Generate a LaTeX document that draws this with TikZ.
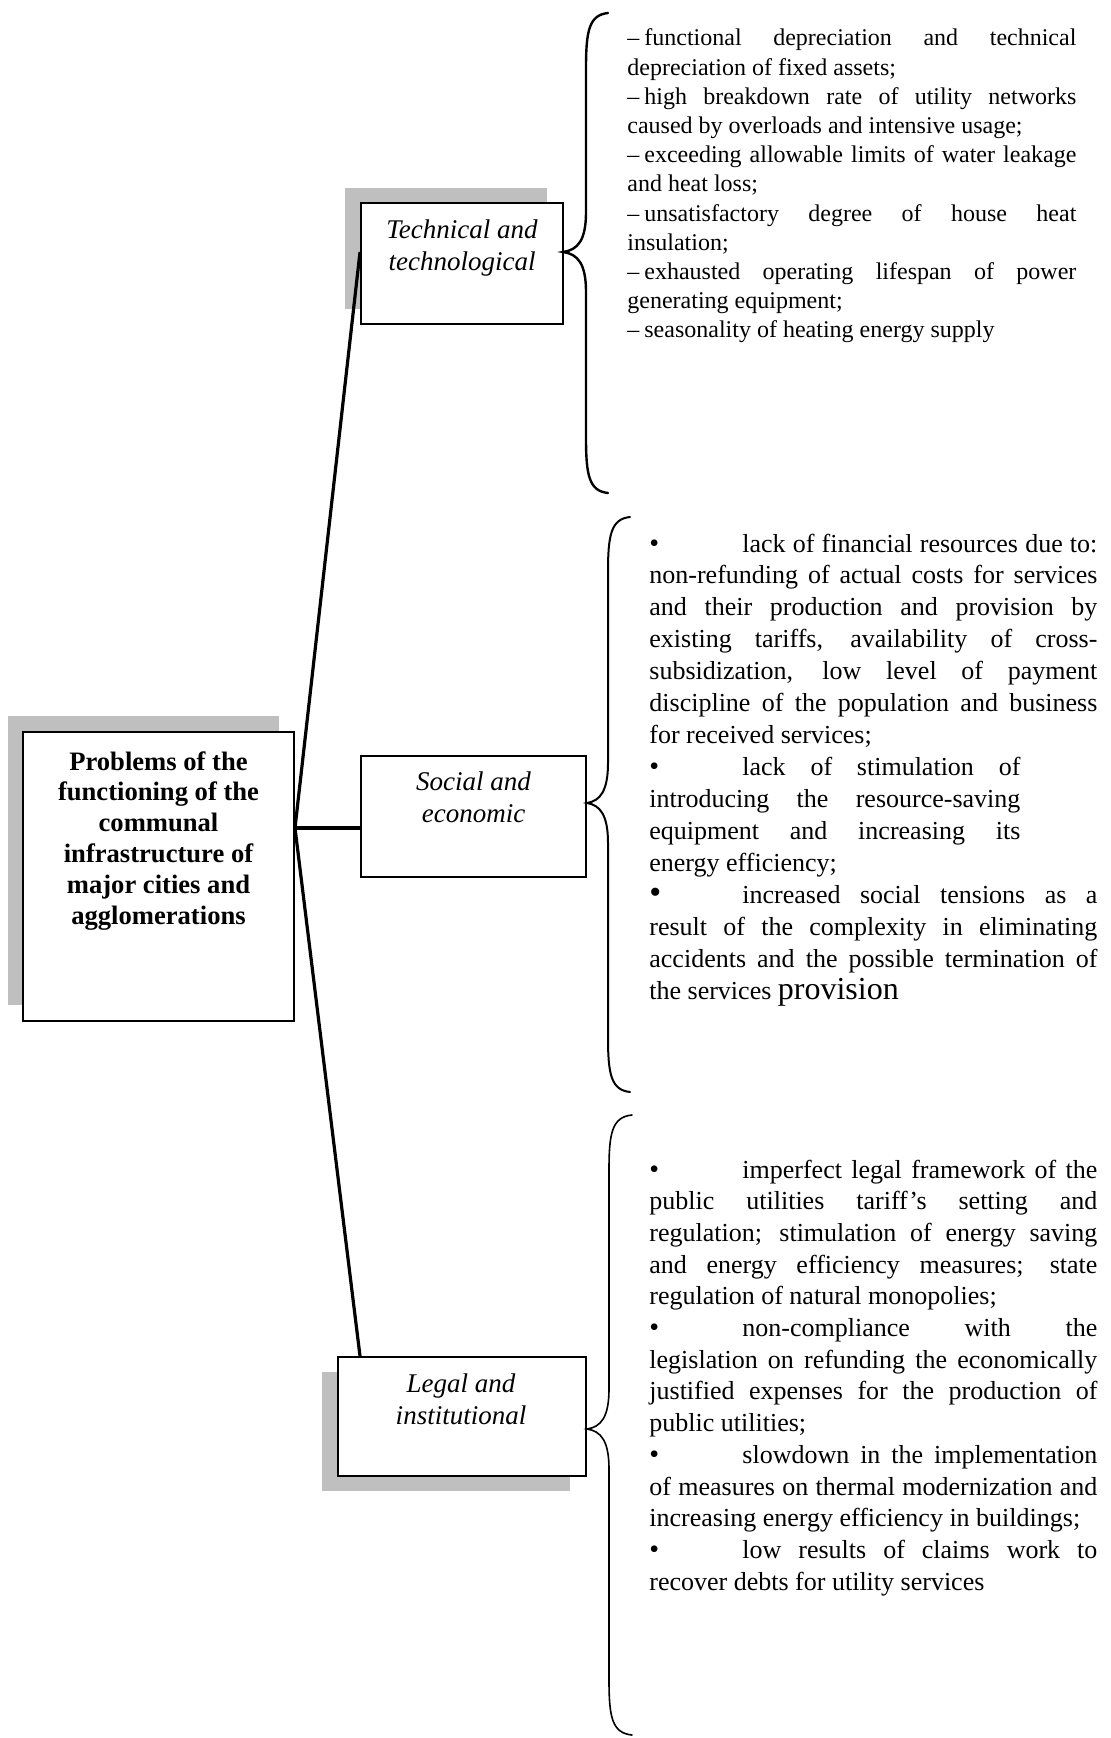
\documentclass[tikz,border=0pt]{standalone}
\usepackage{fontspec}
\setmainfont{Liberation Serif}
\usetikzlibrary{positioning,shadows}

\newcommand{\bul}{\makebox[46.5pt][l]{\fontsize{14}{14}\selectfont\textbullet}}
\newcommand{\bigbul}{\makebox[46.5pt][l]{\fontsize{17}{16}\selectfont\textbullet}}
\newcommand{\dsh}{–\hspace{2.5pt}}

\begin{document}
\begin{tikzpicture}[x=0.5pt, y=-0.5pt,
    box/.style={draw, line width=1pt, fill=white, inner sep=0pt},
    gshadow/.style 2 args={drop shadow={shadow xshift=#1, shadow yshift=#2, fill=black!25, opacity=1}},
    probtxt/.style={font=\fontsize{13.3}{15.4}\selectfont\bfseries, align=center, inner sep=0pt},
    cattxt/.style={font=\fontsize{13.5}{16}\selectfont\itshape, align=center, inner sep=0pt},
    techlist/.style={font=\fontsize{12}{14.6}\selectfont, text width=224.5pt, align=justify, inner sep=0pt},
    itemlist/.style={font=\fontsize{13}{#1}\selectfont, text width=224pt, align=justify, inner sep=0pt},
    link/.style={line width=1.6pt},
    brc/.style={line cap=round}
  ]
  \useasboundingbox (0,0) rectangle (1111,1738);

  % --- boxes ---
  \node[box, gshadow={-7.5pt}{8pt}, minimum width=135.5pt, minimum height=144.5pt] (prob) at (158.5,876.5) {};
  \node[box, gshadow={-8pt}{7.5pt}, minimum width=101pt, minimum height=60.5pt] (tech) at (462,263.5) {};
  \node[box, minimum width=112.5pt, minimum height=60.5pt] (soc) at (473.5,816.5) {};
  \node[box, gshadow={-8pt}{-7.5pt}, minimum width=124pt, minimum height=59.5pt] (legal) at (462,1416.5) {};

  \node[probtxt, below=10pt of prob.north] (prob-t)
    {Problems of the\\functioning of the\\communal\\infrastructure of\\major cities and\\agglomerations};
  \node[cattxt, below=8.6pt of tech.north] (tech-t) {Technical and\\technological};
  \node[cattxt, below=8.3pt of soc.north] (soc-t) {Social and\\economic};
  \node[cattxt, below=8.8pt of legal.north, xshift=-0.5pt] (legal-t) {Legal and\\institutional};

  % --- connectors ---
  \coordinate (hub) at ([yshift=24.25pt]prob.east);
  \draw[link] (hub) -- ([yshift=5.75pt]tech.west);
  \draw[link] (hub) -- ([yshift=-5.75pt]soc.west);
  \draw[link] (hub) -- ([xshift=11.5pt]legal.north west);

  % --- braces ---
  \foreach \xe/\xv/\xt/\yt/\ym/\yb/\lw in {608/586/563/13/252/493/1.2,
                                          630/608/587/517/803/1092/1.0,
                                          632/609/587/1115/1429/1735/0.8}
    \draw[brc, line width=\lw pt] (\xe,\yt) .. controls (\xv+3,\yt+2) and (\xv,\yt+18) .. (\xv,\yt+55)
      -- (\xv,\ym-40) .. controls (\xv,\ym-12) and (\xv-8,\ym-2) .. (\xt,\ym)
      .. controls (\xv-8,\ym+2) and (\xv,\ym+12) .. (\xv,\ym+40)
      -- (\xv,\yb-55) .. controls (\xv,\yb-18) and (\xv+3,\yb-2) .. (\xe,\yb);

  % --- lists ---
  \node[techlist, anchor=base west] (tech-list) at (627,46) {%
    \dsh functional depreciation and technical\linebreak depreciation of fixed assets;\par
    \dsh high breakdown rate of utility networks\linebreak caused by overloads and intensive usage;\par
    \dsh exceeding allowable limits of water leakage\linebreak and heat loss;\par
    \dsh unsatisfactory degree of house heat\linebreak insulation;\par
    \dsh exhausted operating lifespan of power\linebreak generating equipment;\par
    \dsh seasonality of heating energy supply};

  \node[itemlist=15.97, anchor=base west] (soc-list) at (649,552) {%
    \bul lack of financial resources due to:\linebreak non-refunding of actual costs for services\linebreak
    and their production and provision by\linebreak existing tariffs, availability of cross-\linebreak
    subsidization, low level of payment\linebreak discipline of the population and business\linebreak
    for received services;\par
    {\rightskip=38.5pt \bul lack of stimulation of\linebreak introducing the resource-saving\linebreak
    equipment and increasing its\linebreak energy efficiency;\par}
    \bigbul increased social tensions as a\linebreak result of the complexity in eliminating\linebreak
    accidents and the possible termination of\linebreak the services {\fontsize{16}{15.97}\selectfont provision}};

  \node[itemlist=15.85, anchor=base west] (legal-list) at (649,1178) {%
    \bul imperfect legal framework of the\linebreak public utilities tariff’s setting and\linebreak
    regulation; stimulation of energy saving\linebreak and energy efficiency measures; state\linebreak
    regulation of natural monopolies;\par
    \bul non-compliance with the\linebreak legislation on refunding the economically\linebreak
    justified expenses for the production of\linebreak public utilities;\par
    \bul slowdown in the implementation\linebreak of measures on thermal modernization and\linebreak
    increasing energy efficiency in buildings;\par
    \bul low results of claims work to\linebreak recover debts for utility services};
\end{tikzpicture}
\end{document}
